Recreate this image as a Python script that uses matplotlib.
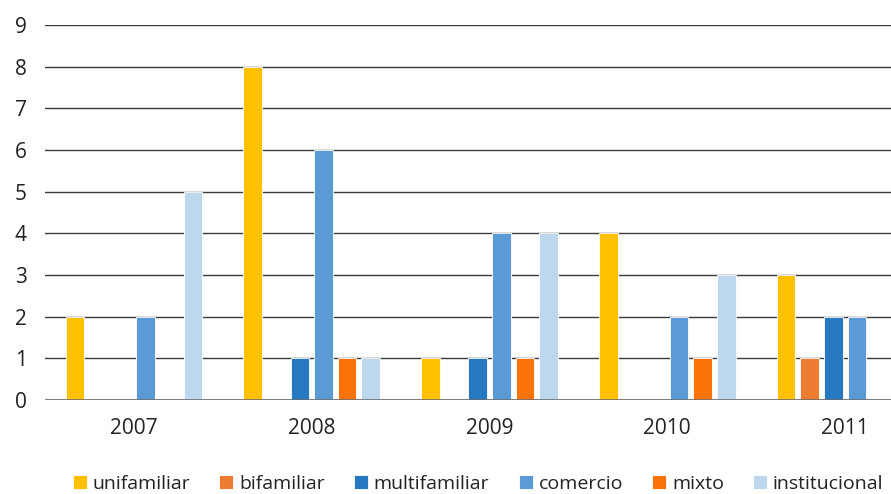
import numpy as np
import matplotlib
matplotlib.use("Agg")
import matplotlib.pyplot as plt

plt.rcParams["font.family"] = ["Open Sans", "DejaVu Sans"]

years = ["2007", "2008", "2009", "2010", "2011"]
series = ["unifamiliar", "bifamiliar", "multifamiliar", "comercio", "mixto", "institucional"]
colors = ["#FFC000", "#ED7D31", "#2679C0", "#5B9BD5", "#F97308", "#BDD7EE"]

unifamiliar = [2, 8, 1, 4, 3]
bifamiliar = [0, 0, 0, 0, 1]
multifamiliar = [0, 1, 1, 0, 2]
comercio = [2, 6, 4, 2, 2]
mixto = [0, 1, 1, 1, 0]
institucional = [5, 1, 4, 3, 0]
values = [unifamiliar, bifamiliar, multifamiliar, comercio, mixto, institucional]

fig = plt.figure(figsize=(8.91, 4.94), dpi=100)
# plot area runs past the right edge of the canvas
ax = fig.add_axes([45 / 891, 94 / 494, 889 / 891, 375 / 494])

x = np.arange(len(years))
slot = 0.1328
width = 0.104
for i, (name, vals, c) in enumerate(zip(series, values, colors)):
    offs = (i - 2.5) * slot
    ax.bar(x + offs, vals, width=width, color=c, edgecolor="white",
           linewidth=0.6, label=name, zorder=3)

ax.set_xlim(-0.5, 4.5)
ax.set_ylim(0, 9)
ax.set_yticks(range(10))
ax.yaxis.grid(True, color="#3a3a3a", linewidth=1.0, zorder=0)
ax.set_axisbelow(True)
for s in ["top", "right", "left", "bottom"]:
    ax.spines[s].set_visible(False)
ax.axhline(0, color="#6e6e6e", linewidth=1.2, zorder=4)
ax.tick_params(axis="both", length=0, labelsize=15, colors="#222222")
ax.tick_params(axis="y", pad=13)
ax.tick_params(axis="x", pad=13)
ax.set_xticks(x)
ax.set_xticklabels(years)

fig.legend(loc="center", bbox_to_anchor=(478 / 891, 1 - 484 / 494), ncol=6,
           frameon=False, fontsize=14, handlelength=0.72, handleheight=0.72,
           handletextpad=0.3, columnspacing=1.5, labelcolor="#222222")

fig.savefig("out.png", dpi=100)
